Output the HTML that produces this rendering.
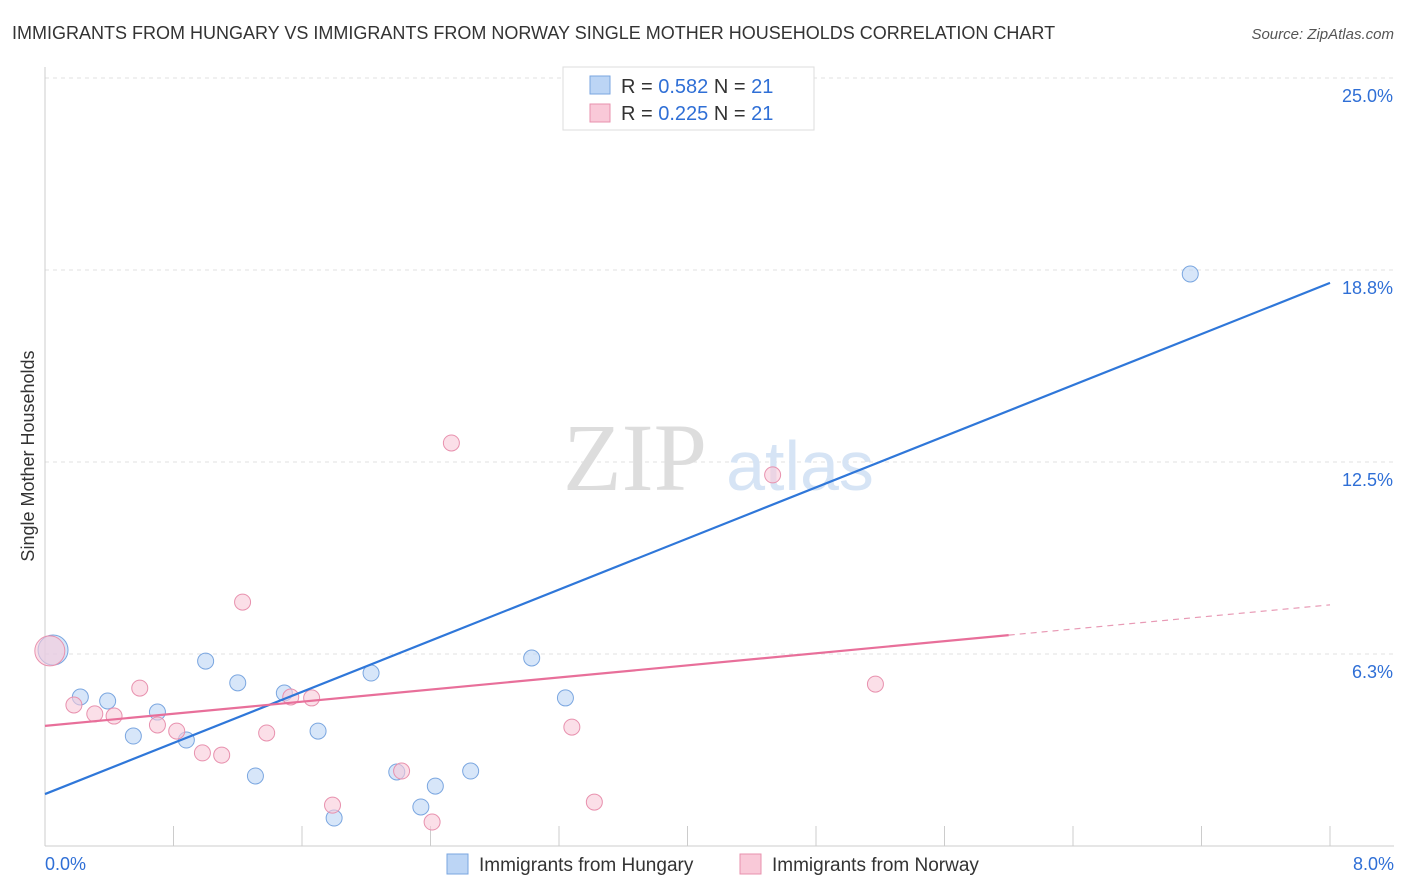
<!DOCTYPE html>
<html><head><meta charset="utf-8"><style>
body{margin:0;background:#fff;font-family:"Liberation Sans",sans-serif;}
svg{display:block}
</style></head><body>
<svg width="1406" height="892" viewBox="0 0 1406 892">
<text x="12" y="39" font-size="18" fill="#333">IMMIGRANTS FROM HUNGARY VS IMMIGRANTS FROM NORWAY SINGLE MOTHER HOUSEHOLDS CORRELATION CHART</text>
<text x="1394" y="39" font-size="15" fill="#555" font-style="italic" text-anchor="end">Source: ZipAtlas.com</text>
<g id="grid"></g>
<text x="635" y="490" font-size="96" fill="#ddd" font-family="Liberation Serif,serif" text-anchor="middle">ZIP</text>
<text x="800" y="490" font-size="70" fill="#d6e4f5" text-anchor="middle">atlas</text>
<text transform="translate(34,456) rotate(-90)" font-size="18" fill="#333" text-anchor="middle">Single Mother Households</text>
<g id="marks"></g>
<g>
<rect x="563" y="67" width="251" height="63" fill="#fff" stroke="#ddd"/>
<rect x="590" y="76" width="20" height="18" fill="#bcd5f5" stroke="#7aa6e0"/>
<text x="621" y="93" font-size="20" fill="#333">R = <tspan fill="#2f6fd6">0.582</tspan>   N = <tspan fill="#2f6fd6">21</tspan></text>
<rect x="590" y="104" width="20" height="18" fill="#f9c9d8" stroke="#e891ae"/>
<text x="621" y="120" font-size="20" fill="#333">R = <tspan fill="#2f6fd6">0.225</tspan>   N = <tspan fill="#2f6fd6">21</tspan></text>
</g>
<g>
<rect x="447" y="854" width="21" height="20" fill="#bcd5f5" stroke="#7aa6e0"/>
<text x="479" y="871" font-size="19" fill="#333">Immigrants from Hungary</text>
<rect x="740" y="854" width="21" height="20" fill="#f9c9d8" stroke="#e891ae"/>
<text x="772" y="871" font-size="19" fill="#333">Immigrants from Norway</text>
</g>
</svg>
<script>
const hungaryX=[0.05,0.22,0.39,0.55,0.70,0.88,1.00,1.20,1.31,1.49,1.70,1.80,2.03,2.19,2.34,2.43,2.65,3.03,3.24,7.13];
const hungaryY=[6.38,4.85,4.72,3.58,4.36,3.45,6.02,5.31,2.28,4.98,3.74,0.91,5.63,2.41,1.27,1.95,2.44,6.12,4.82,18.62];
const norwayX=[0.03,0.18,0.31,0.43,0.59,0.70,0.82,0.98,1.10,1.23,1.38,1.53,1.66,1.79,2.22,2.41,2.53,3.28,3.42,4.53,5.17];
const norwayY=[6.35,4.59,4.30,4.23,5.14,3.94,3.74,3.03,2.96,7.94,3.68,4.85,4.82,1.33,2.44,0.78,13.12,3.87,1.43,12.08,5.27];
const yTicks=[25,18.75,12.5,6.25];
const yTickLabels=["25.0%","18.8%","12.5%","6.3%"];
const xTicks=[0,0.8,1.6,2.4,3.2,4,4.8,5.6,6.4,7.2,8];
const hungaryTrend=[1.69,18.33];
const norwayTrend=[3.91,7.85];
const norwaySolidEnd=6.0;
const NS="http://www.w3.org/2000/svg";
const X=v=>45+v*1285/8, Y=v=>846-v*30.72;
function mk(t,a,p){const e=document.createElementNS(NS,t);for(const k in a)e.setAttribute(k,a[k]);p.appendChild(e);return e;}
const grid=document.getElementById('grid'), marks=document.getElementById('marks');
yTicks.forEach((v,i)=>{
 const l=mk('line',{x1:45,x2:1394,y1:Y(v),y2:Y(v),stroke:'#e2e2e2','stroke-dasharray':'4,4'},grid);
 
 
 const t=mk('text',{x:1393,y:Y(v)+24,'font-size':18,fill:'#2f6fd6','text-anchor':'end'},grid);
 t.textContent=yTickLabels[i];
 
 
});
const ax=mk('line',{x1:45,x2:45,y1:67,y2:846,stroke:'#ccc'},grid);


const bx=mk('line',{x1:45,x2:1394,y1:846,y2:846,stroke:'#ccc'},grid);


xTicks.forEach(v=>{const l=mk('line',{x1:X(v),x2:X(v),y1:826,y2:846,stroke:'#ccc'},grid);
 
 });
[[0,'start',45,'x-min-label','0.0%'],[8,'end',1394,'x-max-label','8.0%']].forEach(a=>{
 const t=mk('text',{x:a[2],y:870,'font-size':18,fill:'#2f6fd6','text-anchor':a[1]},grid);t.textContent=a[4];
 
 });
function pts(xs,ys,fill,stroke,name){xs.forEach((x,i)=>{
 const r=i===0?15:8;
 const c=mk('circle',{cx:X(x),cy:Y(ys[i]),r:r,fill:fill,'fill-opacity':0.6,stroke:stroke,'stroke-width':1},marks);
 
 });}
pts(hungaryX,hungaryY,'#bcd5f5','#7aa6e0','hungary-point');
pts(norwayX,norwayY,'#f9c9d8','#e891ae','norway-point');
const hl=mk('line',{x1:X(0),y1:Y(hungaryTrend[0]),x2:X(8),y2:Y(hungaryTrend[1]),stroke:'#2f77d9','stroke-width':2.2},marks);


const ny=v=>norwayTrend[0]+(norwayTrend[1]-norwayTrend[0])*v/8;
const nl=mk('line',{x1:X(0),y1:Y(ny(0)),x2:X(norwaySolidEnd),y2:Y(ny(norwaySolidEnd)),stroke:'#e86f9a','stroke-width':2.2},marks);


const nd=mk('line',{x1:X(norwaySolidEnd),y1:Y(ny(norwaySolidEnd)),x2:X(8),y2:Y(ny(8)),stroke:'#e89ab5','stroke-width':1.2,'stroke-dasharray':'6,5'},marks);


</script>
</body></html>
